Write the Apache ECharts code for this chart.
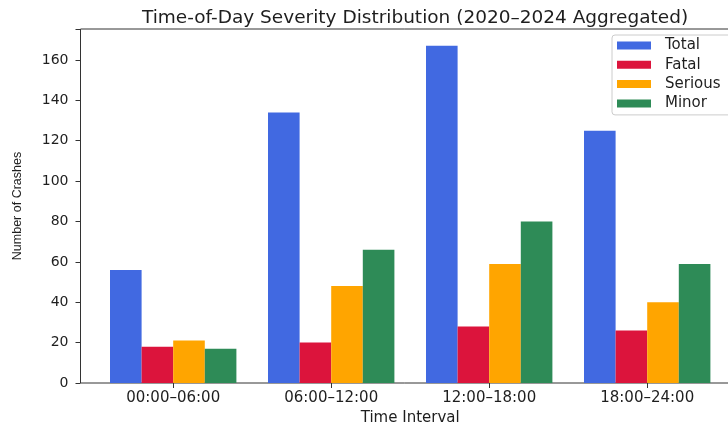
<!DOCTYPE html>
<html>
<head>
<meta charset="utf-8">
<script src="https://cdn.jsdelivr.net/npm/echarts@6/dist/echarts.min.js"></script>
<style>html,body{margin:0;padding:0;background:#fff}#c{width:728px;height:425px}</style>
</head>
<body>
<div id="c"></div>
<script>
const categories = ['00:00–06:00', '06:00–12:00', '12:00–18:00', '18:00–24:00'];
const totalValues = [56, 134, 167, 125];
const fatalValues = [18, 20, 28, 26];
const seriousValues = [21, 48, 59, 40];
const minorValues = [17, 66, 80, 59];
const yTicks = [0, 20, 40, 60, 80, 100, 120, 140, 160];

const font = 'DejaVu Sans';
const txt = '#1e1e1e';
const chart = echarts.init(document.getElementById('c'), null, {renderer: 'canvas'});
const mkSeries = (name, data, color) => ({
  name, type: 'bar', data, xAxisIndex: 1, yAxisIndex: 1,
  barWidth: 31.6, barGap: '0%', itemStyle: {color}, z: 3
});
chart.setOption({
  animation: false,
  backgroundColor: '#fff',
  title: {
    text: 'Time-of-Day Severity Distribution (2020–2024 Aggregated)',
    left: 410, top: 4, textAlign: 'center',
    textStyle: {fontFamily: font, fontSize: 18.5, fontWeight: 'normal', color: txt}
  },
  legend: {
    data: ['Total', 'Fatal', 'Serious', 'Minor'],
    orient: 'vertical', left: 612, top: 35,
    itemWidth: 34, itemHeight: 8, itemGap: 4.3,
    icon: 'rect',
    padding: [3, 20, 4, 5],
    backgroundColor: 'rgba(255,255,255,0.85)',
    borderColor: '#cccccc', borderWidth: 1, borderRadius: 3,
    textStyle: {fontFamily: font, fontSize: 15, color: txt, lineHeight: 15, padding: [0, 0, 0, 9]}
  },
  grid: [
    {left: 80.5, top: 29, width: 660, bottom: 42, show: true, borderColor: '#333', borderWidth: 1,
     backgroundColor: 'transparent', z: 1, containLabel: false, outerBoundsMode: 'none'},
    {left: 94.2, top: 29, width: 632, bottom: 42, containLabel: false, outerBoundsMode: 'none'}
  ],
  xAxis: [
    {gridIndex: 0, type: 'value', min: 0, max: 1, show: false},
    {
      gridIndex: 1, type: 'category', data: categories,
      name: 'Time Interval', nameLocation: 'middle', nameGap: 25,
      nameTextStyle: {fontFamily: font, fontSize: 15, color: txt},
      axisLine: {show: false},
      axisTick: {show: true, alignWithLabel: true, length: 5, lineStyle: {color: '#333'}},
      axisLabel: {fontFamily: font, fontSize: 15, color: txt, margin: 8},
      splitLine: {show: false}
    }
  ],
  yAxis: [
    {
      gridIndex: 0, type: 'value', min: 0, max: 175.35, interval: 20,
      name: 'Number of Crashes', nameLocation: 'middle', nameGap: 56,
      nameTextStyle: {fontFamily: "'Liberation Sans Narrow', 'Liberation Sans', sans-serif", fontSize: 12.5, color: txt},
      axisLine: {show: false},
      axisTick: {show: true, length: 5, lineStyle: {color: '#333'}},
      axisLabel: {fontFamily: font, fontSize: 14, color: txt, margin: 12,
        formatter: v => (yTicks.indexOf(v) >= 0 ? String(v) : '')},
      splitLine: {show: false}
    },
    {gridIndex: 1, type: 'value', min: 0, max: 175.35, show: false, splitLine: {show: false}}
  ],
  series: [
    mkSeries('Total', totalValues, '#4169E1'),
    mkSeries('Fatal', fatalValues, '#DC143C'),
    mkSeries('Serious', seriousValues, '#FFA500'),
    mkSeries('Minor', minorValues, '#2E8B57')
  ]
});
</script>
</body>
</html>
